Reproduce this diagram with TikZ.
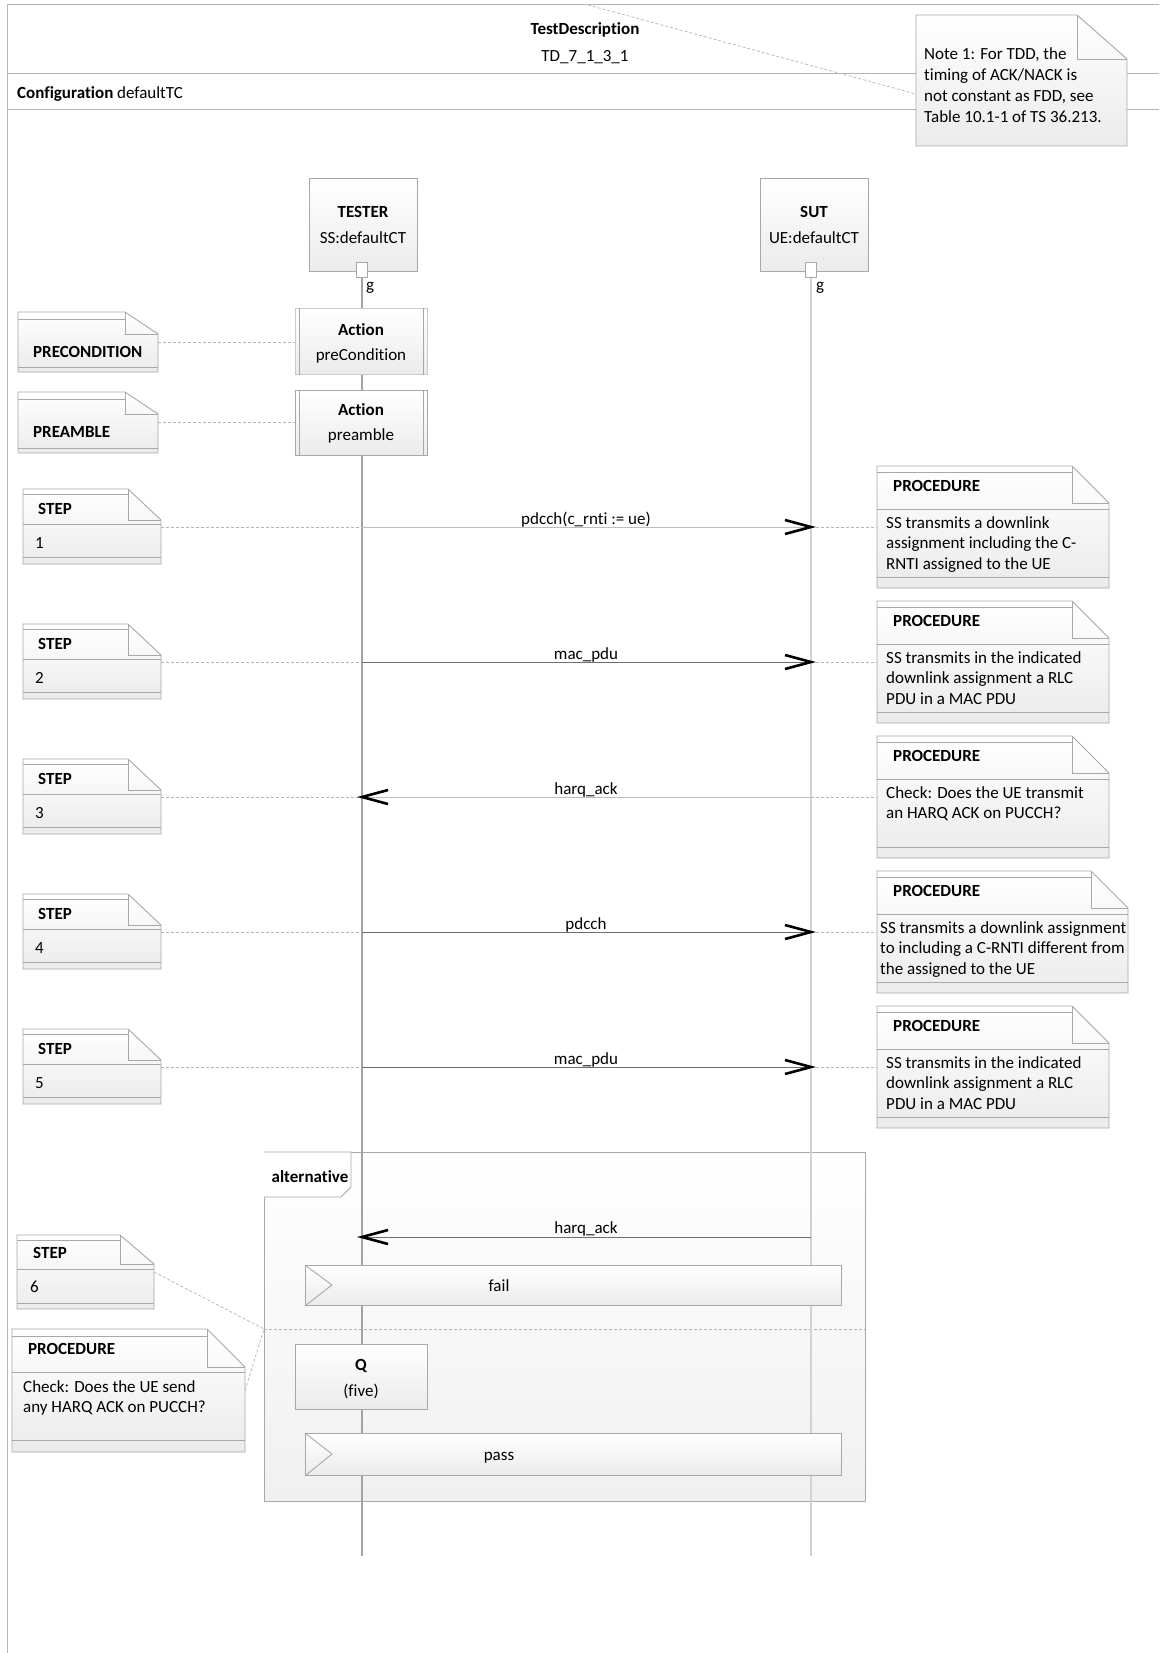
\documentclass[tikz,border=0pt]{standalone}
\usepackage{fontspec}
\setmainfont{Carlito}[Ligatures={NoCommon}]
\usetikzlibrary{calc}
\definecolor{frameC}{HTML}{B4B4B4}
\definecolor{boxC}{HTML}{A8A8A8}
\definecolor{shadeC}{HTML}{EBEBEB}
\definecolor{fragC}{HTML}{F0F0F0}
\definecolor{msgD}{HTML}{6E6E6E}
\definecolor{msgL}{HTML}{BDBDBD}
\definecolor{dashC}{HTML}{B5B5B5}
\definecolor{lifeTC}{HTML}{A3A3A3}
\definecolor{lifeSC}{HTML}{D2D2D2}
\newcommand\fs{\fontsize{17}{20.7}\selectfont}
\tikzset{
 txt/.style={inner sep=0pt, font=\fs},
 bf/.style={inner sep=0pt, font=\fs\bfseries},
 frameline/.style={draw=frameC, line width=1pt},
 boxline/.style={draw=boxC, line width=0.9pt},
 shadebox/.style={draw=boxC, line width=0.9pt, top color=white, bottom color=shadeC},
 conn/.style={draw=dashC, line width=0.7pt, dash pattern=on 3pt off 2pt},
 msgdark/.style={draw=msgD, line width=1pt},
 msglight/.style={draw=msgL, line width=1pt},
 chev/.style={draw=black, line width=2.6pt, line join=miter},
 lifeT/.style={draw=lifeTC, line width=1.1pt},
 lifeS/.style={draw=lifeSC, line width=1.1pt},
}
% name, x, y, w, h, ear w, ear h
\newcommand\umlnote[7]{%
 \node[inner sep=0pt, outer sep=0pt, minimum width=#4pt, minimum height=#5pt, anchor=north west] (#1) at (#2,#3) {};
 \path[shadebox] (#2,#3) -- ({#2+#4-#6},#3) -- ({#2+#4},{#3+#7}) -- ({#2+#4},{#3+#5}) -- (#2,{#3+#5}) -- cycle;
 \draw[boxline] ({#2+#4-#6},#3) -- ({#2+#4-#6},{#3+#7}) -- ({#2+#4},{#3+#7});
}
% name, x, y, number
\newcommand\stepnote[4]{%
 \umlnote{#1}{#2}{#3}{138}{75}{33}{31}
 \draw[boxline] (#2,{#3+5}) -- ({#2+105},{#3+5});
 \draw[boxline] (#2,{#3+35}) -- ({#2+138},{#3+35});
 \draw[boxline] (#2,{#3+68}) -- ({#2+138},{#3+68});
 \node[bf, anchor=west] (#1-h) at ({#2+15},{#3+20}) {STEP};
 \node[txt, anchor=west] (#1-n) at ({#2+12},{#3+54}) {#4};
}
% name, x, y, w, body dx, text
\newcommand\procnote[6]{%
 \umlnote{#1}{#2}{#3}{#4}{122}{37}{37}
 \draw[boxline] (#2,{#3+6}) -- ({#2+#4-37},{#3+6});
 \draw[boxline] (#2,{#3+43}) -- ({#2+#4},{#3+43});
 \draw[boxline] (#2,{#3+111}) -- ({#2+#4},{#3+111});
 \node[bf, anchor=west] (#1-h) at ({#2+16},{#3+20}) {PROCEDURE};
 \node[txt, anchor=north west, align=left] (#1-b) at ({#2+#5},{#3+50}) {#6};
}
\newcommand\chevright[1]{\draw[chev] ([xshift=-26pt,yshift=7pt]#1) -- (#1) -- ([xshift=-26pt,yshift=-7pt]#1);}
\newcommand\chevleft[1]{\draw[chev] ([xshift=26pt,yshift=7pt]#1) -- (#1) -- ([xshift=26pt,yshift=-7pt]#1);}
\begin{document}
\begin{tikzpicture}[x=1pt,y=-1pt]
\useasboundingbox (0,0) rectangle (1159,1653);
\fill[white] (0,0) rectangle (1159,1653);

% ---- frame and header
\draw[frameline] (1159,5) -- (7,5) -- (7,1653);
\draw[frameline] (7,74) -- (1159,74);
\draw[frameline] (7,110) -- (1159,110);
\node[bf] (tdTitle) at (585,30) {TestDescription};
\node[txt] (tdName) at (585,57) {TD\_7\_1\_3\_1};
\node[txt, anchor=west] (config) at (17,94) {\textbf{Configuration} defaultTC};

% ---- alternative fragment (background)
\node[draw=boxC, line width=0.9pt, top color=white, bottom color=fragC, minimum width=601pt, minimum height=349pt, inner sep=0pt, anchor=north west] (alt) at (264,1152) {};
\path[draw=boxC, line width=0.9pt, fill=white] (264,1152) -- (351,1152) -- (351,1187) -- (341,1197) -- (264,1197);
\node[bf] (altLab) at (310,1177) {alternative};
\coordinate (altSepL) at (264,1329);
\coordinate (altSepR) at (865,1329);
\draw[conn] (altSepL) -- (altSepR);

% ---- lifelines
\coordinate (tEnd) at (362,1556);
\coordinate (sEnd) at (811,1556);
\draw[lifeT] (362,272) -- (tEnd);
\draw[lifeS] (811,272) -- (sEnd);

% ---- instances
\node[shadebox, minimum width=108pt, minimum height=93pt, inner sep=0pt, anchor=north west] (tester) at (309,178) {};
\node[bf] (testerT) at (363,212) {TESTER};
\node[txt] (testerS) at (363,238) {SS:defaultCT};
\node[draw=boxC, fill=white, line width=0.9pt, minimum width=11pt, minimum height=15pt, inner sep=0pt] (testerP) at (362,269.5) {};
\node[txt] (testerG) at (370,288) {g};

\node[shadebox, minimum width=108pt, minimum height=93pt, inner sep=0pt, anchor=north west] (sut) at (760,178) {};
\node[bf] (sutT) at (814,212) {SUT};
\node[txt] (sutS) at (814,238) {UE:defaultCT};
\node[draw=boxC, fill=white, line width=0.9pt, minimum width=11pt, minimum height=15pt, inner sep=0pt] (sutP) at (811,269.5) {};
\node[txt] (sutG) at (820,288) {g};

% ---- actions
\node[shadebox, draw=boxC!60, minimum width=132pt, minimum height=66pt, inner sep=0pt, anchor=north west] (actPre) at (295,308) {};
\draw[boxline] ([xshift=4pt]actPre.north west) -- ([xshift=4pt]actPre.south west);
\draw[boxline] ([xshift=-4pt]actPre.north east) -- ([xshift=-4pt]actPre.south east);
\node[bf] (actPreA) at (361,330) {Action};
\node[txt] (actPreT) at (361,356) {preCondition};

\node[shadebox, minimum width=132pt, minimum height=65pt, inner sep=0pt, anchor=north west] (actAmb) at (295,390) {};
\draw[boxline] ([xshift=4pt]actAmb.north west) -- ([xshift=4pt]actAmb.south west);
\draw[boxline] ([xshift=-4pt]actAmb.north east) -- ([xshift=-4pt]actAmb.south east);
\node[bf] (actAmbA) at (361,410) {Action};
\node[txt] (actAmbT) at (361,436) {preamble};

% ---- precondition / preamble notes
\umlnote{nPrecond}{18}{312}{140}{60}{33}{22}
\draw[boxline] (18,319) -- (125,319);
\draw[boxline] (18,367) -- (158,367);
\node[bf, anchor=west] (nPrecondT) at (33,352) {PRECONDITION};
\umlnote{nPreamble}{18}{392}{140}{61}{33}{22}
\draw[boxline] (18,399) -- (125,399);
\draw[boxline] (18,448) -- (158,448);
\node[bf, anchor=west] (nPreambleT) at (33,432) {PREAMBLE};
\draw[conn] (nPrecond.east) -- (nPrecond.east -| actPre.west);
\draw[conn] (nPreamble.east) -- (nPreamble.east -| actAmb.west);

% ---- steps 1..5
\stepnote{s1}{23}{489}{1}
\stepnote{s2}{23}{624}{2}
\stepnote{s3}{23}{759}{3}
\stepnote{s4}{23}{894}{4}
\stepnote{s5}{23}{1029}{5}

\procnote{p1}{877}{466}{232}{9}{SS transmits a downlink\\assignment including the C-\\RNTI assigned to the UE}
\procnote{p2}{877}{601}{232}{9}{SS transmits in the indicated\\downlink assignment a RLC\\PDU in a MAC PDU}
\procnote{p3}{877}{736}{232}{9}{Check: Does the UE transmit\\an HARQ ACK on PUCCH?}
\procnote{p4}{877}{871}{251}{3}{SS transmits a downlink assignment\\to including a C-RNTI different from\\the assigned to the UE}
\procnote{p5}{877}{1006}{232}{9}{SS transmits in the indicated\\downlink assignment a RLC\\PDU in a MAC PDU}

\coordinate (mT1) at (362,527);  \coordinate (mS1) at (811,527);
\coordinate (mT2) at (362,662);  \coordinate (mS2) at (811,662);
\coordinate (mT3) at (362,797);  \coordinate (mS3) at (811,797);
\coordinate (mT4) at (362,932);  \coordinate (mS4) at (811,932);
\coordinate (mT5) at (362,1067); \coordinate (mS5) at (811,1067);

\draw[conn] (s1.east |- mT1) -- (mT1);
\draw[conn] (s2.east |- mT2) -- (mT2);
\draw[conn] (s3.east |- mT3) -- (mT3);
\draw[conn] (s4.east |- mT4) -- (mT4);
\draw[conn] (s5.east |- mT5) -- (mT5);
\draw[conn] (mS1) -- (p1.west |- mS1);
\draw[conn] (mS2) -- (p2.west |- mS2);
\draw[conn] (mS3) -- (p3.west |- mS3);
\draw[conn] (mS4) -- (p4.west |- mS4);
\draw[conn] (mS5) -- (p5.west |- mS5);

\draw[msglight] (mT1) -- (mS1);
\draw[msgdark] (mT2) -- (mS2);
\draw[msglight] (mS3) -- (mT3);
\draw[msgdark] (mT4) -- (mS4);
\draw[msgdark] (mT5) -- (mS5);
\chevright{mS1}
\chevright{mS2}
\chevleft{mT3}
\chevright{mS4}
\chevright{mS5}
\node[txt] (l1) at (586,520) {pdcch(c\_rnti := ue)};
\node[txt] (l2) at (586,655) {mac\_pdu};
\node[txt] (l3) at (586,790) {harq\_ack};
\node[txt] (l4) at (586,925) {pdcch};
\node[txt] (l5) at (586,1060) {mac\_pdu};

% ---- inside alternative
\coordinate (mT6) at (362,1237); \coordinate (mS6) at (811,1237);
\draw[msgdark] (mS6) -- (mT6);
\chevleft{mT6}
\node[txt] (l6) at (586,1229) {harq\_ack};

\node[shadebox, minimum width=536pt, minimum height=40pt, inner sep=0pt, anchor=north west] (fail) at (305,1265) {};
\draw[boxline] (fail.north west) -- ++(27,20) -- (fail.south west);
\node[txt] (failT) at (499,1286) {fail};

\node[shadebox, minimum width=132pt, minimum height=65pt, inner sep=0pt, anchor=north west] (qbox) at (295,1344) {};
\node[bf] (qboxQ) at (361,1366) {Q};
\node[txt] (qboxT) at (361,1391) {(five)};

\node[shadebox, minimum width=536pt, minimum height=42pt, inner sep=0pt, anchor=north west] (pass) at (305,1433) {};
\draw[boxline] (pass.north west) -- ++(27,21) -- (pass.south west);
\node[txt] (passT) at (499,1458) {pass};

% ---- step 6 and its procedure
\umlnote{s6}{17}{1235}{137}{74}{34}{29}
\draw[boxline] (17,1240) -- (120,1240);
\draw[boxline] (17,1269) -- (154,1269);
\draw[boxline] (17,1303) -- (154,1303);
\node[bf, anchor=west] (s6-h) at (33,1253) {STEP};
\node[txt, anchor=west] (s6-n) at (30,1287) {6};

\umlnote{p6}{12}{1329}{233}{123}{38}{38}
\draw[boxline] (12,1336) -- (207,1336);
\draw[boxline] (12,1372) -- (245,1372);
\draw[boxline] (12,1440) -- (245,1440);
\node[bf, anchor=west] (p6-h) at (28,1349) {PROCEDURE};
\node[txt, anchor=north west, align=left] (p6-b) at (23,1380) {Check: Does the UE send\\any HARQ ACK on PUCCH?};

\draw[conn] (s6.east) -- (altSepL);
\draw[conn] (p6.east) -- (altSepL);

% ---- note 1
\coordinate (nTop) at (588,5);
\coordinate (n1in) at (916,94);
\draw[conn] (nTop) -- (n1in);
\umlnote{note1}{916}{15}{211}{131}{50}{44}
\node[inner sep=0pt, anchor=north west, align=left, font=\fontsize{17}{21.3}\selectfont] (note1T) at (924,47) {Note 1: For TDD, the\\timing of ACK/NACK is\\not constant as FDD, see\\Table 10.1-1 of TS 36.213.};
\end{tikzpicture}
\end{document}
